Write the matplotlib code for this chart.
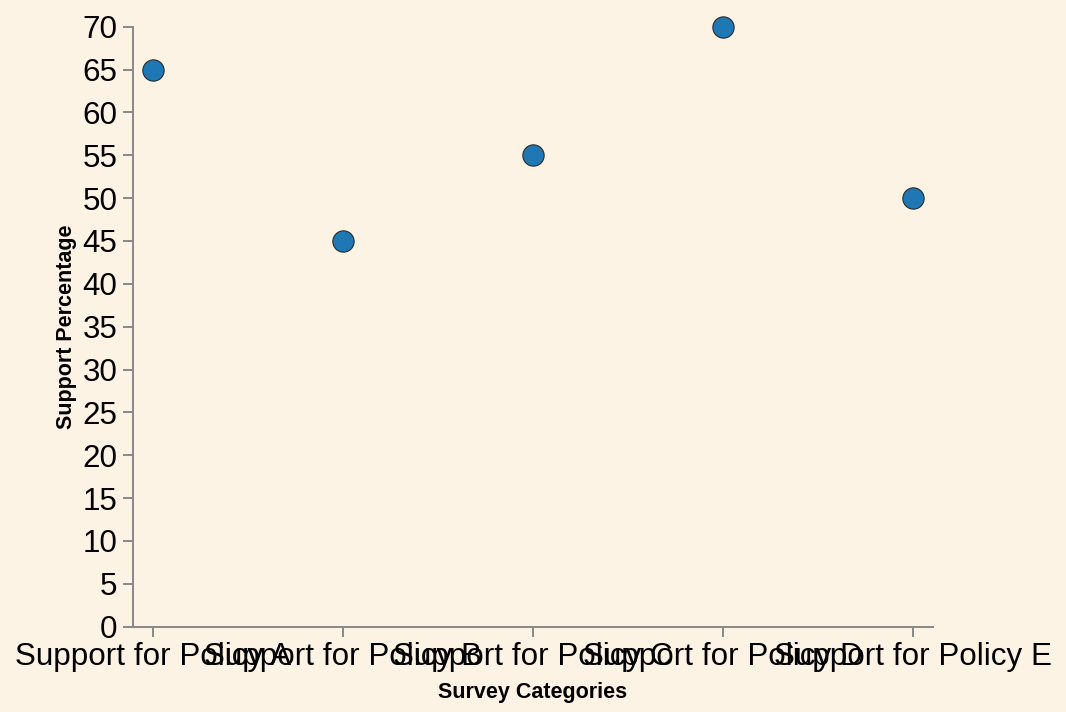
import numpy as np
from matplotlib import pyplot as plt

plt.rcParams['font.family'] = ['Liberation Sans', 'DejaVu Sans']

categories = ['Support for Policy A', 'Support for Policy B', 'Support for Policy C',
              'Support for Policy D', 'Support for Policy E']
support = [65, 45, 55, 70, 50]
yticks = list(range(0, 75, 5))

bg = '#fdf3e4'
axis_col = '#888888'

fig = plt.figure(figsize=(10.66, 7.12), dpi=100, facecolor=bg)
ax = fig.add_axes([0.1248, 0.1198, 0.7502, 0.8427], facecolor=bg)

x = np.arange(len(categories))
ax.scatter(x, support, s=235, color='#1f77b4', edgecolor='#2a2a2a',
           linewidth=0.8, zorder=3, clip_on=False)

ax.set_xlim(-0.105, len(categories) - 1 + 0.105)
ax.set_ylim(0, 70)
ax.set_xticks(x)
ax.set_xticklabels(categories)
ax.set_yticks(yticks)

for s in ['top', 'right']:
    ax.spines[s].set_visible(False)
for s in ['left', 'bottom']:
    ax.spines[s].set_color(axis_col)
    ax.spines[s].set_linewidth(1.4)

ax.tick_params(axis='both', colors=axis_col, width=1.4, length=7.2,
               labelsize=22.6, labelcolor='black')
ax.tick_params(axis='x', pad=3.5)
ax.tick_params(axis='y', pad=4)

ax.set_xlabel('Survey Categories', fontsize=15.5, fontweight='bold')
ax.xaxis.set_label_coords(0.5, -0.11)
ax.xaxis.label.set_va('center')
ax.set_ylabel('Support Percentage', fontsize=15.5, fontweight='bold')
ax.yaxis.set_label_coords(-0.083, 0.5)
ax.yaxis.label.set_va('center')

fig.savefig('out.png', dpi=100, facecolor=bg)
